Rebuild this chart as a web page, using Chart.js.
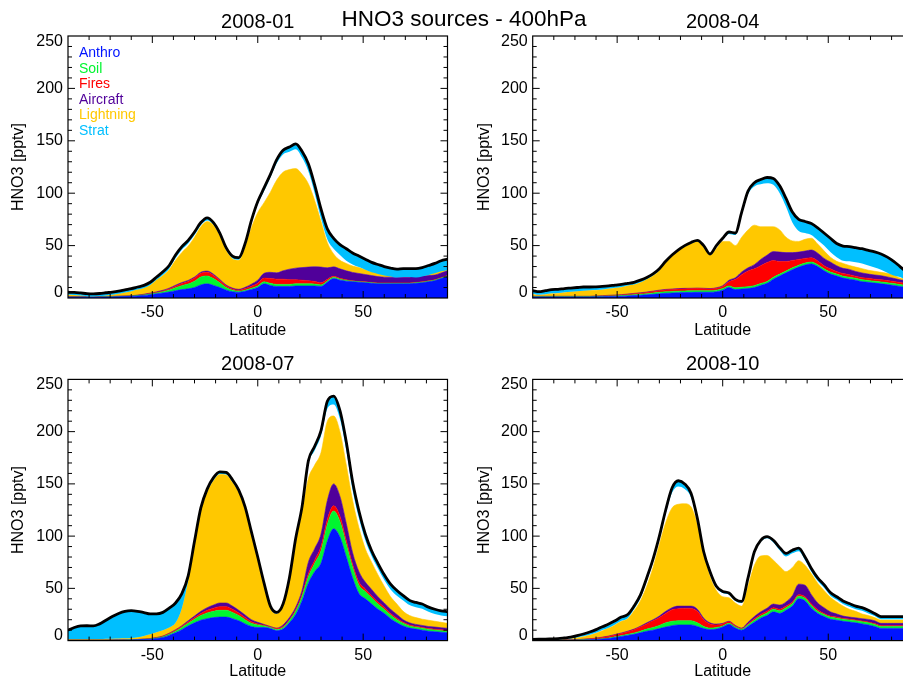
<!DOCTYPE html>
<html>
<head>
<meta charset="utf-8">
<script src="https://cdn.jsdelivr.net/npm/chart.js@4.4.0/dist/chart.umd.min.js"></script>
<style>
  html, body { margin: 0; padding: 0; background: #fff; overflow: hidden; }
  #page { position: relative; width: 903px; height: 681px; overflow: hidden;
          font-family: "Liberation Sans", Arial, sans-serif; }
  canvas { position: absolute; }
  #title { position: absolute; left: 464px; top: 7px; transform: translateX(-50%);
           font-size: 22.5px; line-height: 23px; white-space: nowrap; color: #000; z-index: 5; }
</style>
</head>
<body>
<div id="page">
  <canvas id="c1" width="451" height="340" style="left:0;top:0"></canvas>
  <canvas id="c2" width="470" height="340" style="left:451px;top:0"></canvas>
  <canvas id="c3" width="451" height="341" style="left:0;top:340px"></canvas>
  <canvas id="c4" width="470" height="341" style="left:451px;top:340px"></canvas>
  <div id="title">HNO3 sources - 400hPa</div>
</div>
<script>
// latitude grid (deg)
const lat = [-90,-87,-84,-81,-78,-75,-72,-69,-66,-63,-60,-57,-54,-51,-48,-45,-42,-39,-36,-33,-30,-27,-24,-21,-18,-15,-12,-9,-6,-3,0,3,6,9,12,15,18,21,24,27,30,33,36,39,42,45,48,51,54,57,60,63,66,69,72,75,78,81,84,87,90];
const xTicks = [-50, 0, 50];
const yTicks = [0, 50, 100, 150, 200, 250];
const sourceNames = ['Anthro', 'Soil', 'Fires', 'Aircraft', 'Lightning', 'Strat'];

// 2008-01 (pptv)
const anthroJan = [0.8,0.8,0.7,0.7,0.7,0.8,0.9,1.0,1.2,1.4, 1.6,2.0,2.5,3.2,4,4.8,5.8,7,8,8.8, 10,12.5,13.5,12,10,7.5,6,5.5,6.5,8, 10,13.5,12,11,11,11,11.5,11.5,11.5,11.5, 11,15,18.5,17,16,15.5,15,14.5,14,13.5, 13.5,13.5,13.5,13.5,13.5,14,14.5,15.5,16.5,18.5, 20.5];
const soilJan = [0.2,0.2,0.2,0.2,0.2,0.2,0.2,0.2,0.2,0.2, 0.2,0.3,0.4,0.6,0.8,1.2,1.8,2.8,3.8,4.5, 6,7.5,7.5,6.5,4.5,2.5,1.5,1,1,1.2, 1.5,2,2,2,2,2,2,2,2,1.8, 1.5,1.3,1.2,1,0.8,0.5,0.5,0.5,0.5,0.5, 0.5,0.5,0.5,0.5,0.5,0.5,0.5,0.5,0.5,0.5, 0.5];
const firesJan = [0.1,0.1,0.1,0.1,0.1,0.1,0.1,0.1,0.1,0.1, 0.1,0.2,0.3,0.4,0.5,0.7,1,1.5,2,2.5, 3,3.5,3.5,3,2.2,1.5,1.2,1,1.5,2, 2.5,3.5,4.5,5,5,4.5,4,3.5,3,2.5, 2,1.5,1,0.8,0.6,0.4,0.4,0.4,0.4,0.4, 0.4,0.4,0.4,0.4,0.4,0.4,0.4,0.4,0.4,0.4, 0.4];
const aircraftJan = [0.3,0.3,0.3,0.3,0.3,0.3,0.3,0.3,0.3,0.3, 0.3,0.3,0.4,0.5,0.6,0.7,0.8,0.9,1,1, 1,1.1,1.2,1.2,1,0.9,0.8,0.8,1.2,2, 3,4.5,6,6,8,10,11,12,13,14, 15,11,9,9,8.5,8,7.5,7,6.5,6, 5.5,5.5,5.5,5.5,5.5,5.5,5.5,5,4.5,4.5, 4.5];
const lightningJan = [1.6,1.4,1.0,0.4,0.2,0.4,1.0,1.5,2.2,3.3, 4.3,5.2,5.9,7.8,11.6,14.1,17.6,23.8,28.7,32.7, 38,43.4,47.3,46.8,41.8,33.1,28,27.7,38.3,53.8, 64.5,67.5,76.5,88.5,94,95,95,89,79.5,63.2, 43.5,24.2,12.3,8.2,7.1,6.1,5.6,4.6,3.6,3.1, 2.6,2,1.8,2,2,1.5,1.8,2,2.8,2.8, 1.8];
const stratJan = [2.5,2.5,2.5,2.5,2.5,2.5,2.5,2.5,2.5,2.5, 2.5,2.5,2.5,2.5,2.5,3,3,3,3,3, 3,2.5,2.5,2,2,2,2,2,2,2, 2.5,3,3,3.5,4,4.5,5,6,7,8, 9,10,10,10,11.5,11,10.5,10,9.5,9, 8.5,8,8,8,8,8.5,8.5,9,9.5,10, 10.5];
const totalJan = [5.5,5.3,4.8,4.2,4.0,4.3,5.0,5.6,6.5,7.8, 9,10.5,12,15,20,25,31,41,49,55, 63,72,76.5,72,62,48,40,38.5,52,74, 92,105,118,132,141,144,147,140,128,108, 85,66,57,51,47,43,40,37,34,32, 30,28.5,27.5,28,28,28,29,31,33,35.5, 37];

// 2008-04
const anthroApr = [1,1,1,1,1,1,1,1,1,1, 1.1,1.2,1.4,1.5,1.7,2,2.3,2.6,3,3.5, 4,4.5,4.8,5,5.2,5.3,5.5,5.5,5.5,6, 7.5,10,8,8.5,9,10,12,14,18,21, 24,27,29.5,31.5,32.5,30,26,23,21,19, 18,17,15.6,15,14.2,13.5,12.8,12,11,10, 9.5];
const soilApr = [0.3,0.3,0.3,0.3,0.3,0.3,0.3,0.3,0.3,0.3, 0.4,0.4,0.5,0.5,0.6,0.7,0.9,1,1.1,1.3, 1.5,1.5,1.5,1.5,1.5,1.5,1.5,1.5,1.5,1.5, 1.5,1.5,1.8,1.8,1.8,1.8,1.8,1.8,1.8,1.8, 1.8,1.8,1.8,1.8,1.8,1.8,1.8,1.8,1.8,1.8, 1.8,1.8,1.8,1.8,1.8,1.8,1.8,1.8,1.8,1.8, 1.8];
const firesApr = [0.15,0.15,0.15,0.15,0.15,0.15,0.15,0.15,0.15,0.15, 0.2,0.3,0.4,0.5,0.6,0.7,0.8,1,1.2,1.3, 1.5,1.7,1.8,2,2,2,2,1.8,1.5,1.7, 2,4,8,12,15,16,17,18,16,12, 9,7,5.5,4.5,4,3.5,3,3,2.5,2.5, 2.5,2,2,2,2,2,2,2,2,2, 2];
const aircraftApr = [0.2,0.2,0.2,0.2,0.2,0.2,0.2,0.2,0.2,0.2, 0.2,0.3,0.3,0.3,0.3,0.4,0.4,0.4,0.4,0.5, 0.5,0.5,0.5,0.5,0.5,0.5,0.5,0.5,0.5,0.6, 0.8,1.5,1.5,2.5,3,4,6,7,8.5,9, 8.5,7.5,7,7,7.5,7.5,7,6.5,5.5,5, 5,4.5,4.5,4,4,4,3.5,3,2.5,2.5, 2.5];
const lightningApr = [1.9,1.2,1.7,2.7,3,3.7,4.2,4.7,5.2,5.7, 5.6,5.6,6.2,6.8,7.1,8,8.4,9.8,12.1,14.7, 18.8,25.6,31.2,35.8,39.6,42.5,44.3,39.5,31.8,37.2, 42.2,37,30.7,33.2,36.2,37.7,31.2,27.2,23.7,21.2, 14.7,11.2,10.2,11.2,11.2,8.7,7.2,4.7,4.2,4.7, 3.7,4.2,4.1,3.7,3.5,3.2,3.4,3.2,1.7,1.7, 0.7];
const stratApr = [3,3,3.5,3.5,3.5,3.5,3.5,3.5,3.5,3, 3,3,2.5,2.5,2.5,2,2,2,1.5,1.5, 1.5,1,1,1,1,1,1,1,1,1, 1.5,2,2,2.5,3,3.5,4.5,5.5,6,7, 8,10,11,11,11,12,12,13,13,14, 14,14,14,14.5,15,15,15,13.5,10,8, 7];
const totalApr = [7,6,7,8,8.3,9,9.5,10,10.5,10.5, 10.7,11,11.5,12.3,13,14,15,17,19.5,23, 28,35,41,46,50,53,55,50,42,50, 57,63,62,82,102,110,113,115,114,107, 95,82,75,73,71,67,62,57,52,49.6, 49,48,47,45.5,44,42,39,35,30,25, 21];

// 2008-07
const anthroJul = [0.3,0.3,0.3,0.3,0.3,0.3,0.3,0.4,0.4,0.5, 0.6,0.8,1,1.3,2,3,5,7.5,10.5,14, 17,19.5,21,22,22.5,22.5,21,19,16,13.5, 12.5,12.5,11.5,9.5,11,17,25,38,55,66, 74,95,107,99,80,60,45,40,35,30, 26,21,17,14,12,11,10,9,8.5,8, 7.5];
const soilJul = [0.1,0.1,0.1,0.1,0.1,0.1,0.1,0.1,0.1,0.1, 0.1,0.1,0.2,0.3,0.4,0.6,1,1.5,2,2.5, 3.5,4.5,5.5,6,6.5,6.5,6,5,4,3, 2.5,1.5,1,1,1.5,2,3,4,6,8, 12,16,17,15,12,10,8,7,6,5, 4,3.5,3,2.5,2,1.8,1.8,1.7,1.6,1.5, 1.5];
const firesJul = [0.05,0.05,0.05,0.05,0.05,0.05,0.05,0.05,0.1,0.1, 0.1,0.1,0.2,0.3,0.4,0.5,0.7,0.8,1,1.3, 1.5,2,2.5,3,3.5,3.5,3,2.5,2,1.5, 1,0.8,0.5,1,1,1,1.5,2,3,3, 4,5,5,5,4,3,3,2.5,2,2, 2,1.5,1.5,1,1,0.9,0.8,0.8,0.8,0.8, 0.8];
const aircraftJul = [0.05,0.05,0.05,0.05,0.05,0.05,0.05,0.05,0.1,0.1, 0.1,0.1,0.1,0.1,0.2,0.3,0.4,0.6,0.8,1.2, 1.5,2,2.5,3,3.5,3.5,3,2.5,2.5,2, 1.5,0.7,0.5,0.5,1.5,2,2.5,4,11,11, 12,18,21,19,16,11,10,6.5,6,5, 4,4,3.5,2.5,2,1.8,1.9,2,2.1,2, 2];
const lightningJul = [1,1,1,1,1,1,1.2,1.2,1.3,1.4, 1.6,2.2,3,4,5,5.6,5.4,6.6,16.7,38, 68.5,96,110.5,119,123,122.5,118.5,112.5,101,81.5, 60,37,17.5,13.5,18,35,61,75,80,80, 78,76,65,62,56,50,42,32,26,21, 16,12,10,8,7,6.5,6,6,5.5,5.2, 4.7];
const stratJul = [8.5,11,12.5,12.7,12.5,14.5,17.8,21.2,24,25.8, 26.1,24.7,22.3,19.5,17.5,17,18.5,19,14,4.5, 3,3,2.5,2.5,2,2,2,2,2,2, 2,2,1.5,1,1,1.5,2,2.5,3,4, 5,7,8,8,8,8,7,6,5,5, 5,5,5,4.5,4.5,4.5,4.5,4.5,4.5,4.5, 4.5];
const totalJul = [10,12.5,14,14.2,14,16,19.5,23,26,28, 28.6,28,26.8,25.5,25.5,27,31,36,45,62, 95,127,145,156,161.5,161,154,144,128,104, 80,55,33,27,35,60,98,128,172,186, 201,229,234,220,190,152,124,102,86,74, 63,54,48,43,38.5,36.5,35,32,30,28.5, 27.7];

// 2008-10
const anthroOct = [0.2,0.2,0.2,0.2,0.25,0.3,0.4,0.5,0.6,0.8, 1,1.5,2,3,4,5,6,7.5,9,10, 11.5,13,14.3,15,15,15,13.5,11.5,10.5,11, 13,15.5,12,10,13.5,17.5,21.5,24,27.5,26, 29,33,40,38,31,26,23,20.5,19.5,18.5, 17.8,17,16,15,13.5,11.7,11.7,11.7,11.7,11.7, 11.7];
const soilOct = [0.05,0.05,0.05,0.05,0.05,0.05,0.1,0.1,0.2,0.2, 0.3,0.3,0.5,0.6,0.8,1,1.3,1.5,2,2.5, 3,4,4.2,4,4,4,3.5,2,1.5,1.5, 1,1,1,1,1.5,2,2,2.5,2.5,2.5, 2.5,2.5,2.5,2.5,2.5,2,2,2,2,2, 2,2,2,2,2,1.8,1.8,1.8,1.8,1.8, 1.8];
const firesOct = [0.05,0.05,0.05,0.1,0.1,0.15,0.2,0.3,0.4,0.6, 0.9,1.2,1.5,1.7,2,2.5,3.2,4,5,6.5, 7.5,9,11,11.5,11.8,11.8,11,6.5,4,2.5, 2,1.5,1,0.5,1,1.5,1.5,1.5,1.5,1.5, 1.5,1.5,1.5,1.5,1.5,1.5,1,1,1,0.8, 0.8,0.8,0.8,0.8,0.8,0.8,0.8,0.8,0.8,0.8, 0.8];
const aircraftOct = [0.05,0.05,0.05,0.05,0.05,0.05,0.1,0.1,0.1,0.2, 0.2,0.3,0.4,0.5,0.5,0.5,0.5,0.8,1,1, 1.5,2,2,2.5,2.2,2.2,2,1.5,1,0.8, 0.5,0.5,0.5,0.5,1.5,2,2.5,3,3.5,4, 4,6,10,11,9,6.5,5.5,4,3,2.2, 1.9,2,2.2,2.5,2.7,2.2,2.2,2.2,2.2,2.2, 2.2];
const lightningOct = [0.15,0.25,0.25,0.3,0.35,0.65,1,1.8,2.5,3.4, 4.6,6.2,7.6,9.2,11.2,12,17.5,24.2,35,50, 68.5,85,95.5,97.5,98,95,81,62.5,44,32.2, 25.5,22.5,21.5,21,34.5,49,53.5,50.5,42,37, 29,27,22.5,19,20,19,16.5,14,11.5,9.5, 7.5,6.2,4.5,3.7,3,3.2,3.2,3.2,3.2,3.2, 3.2];
const stratOct = [0.5,0.5,0.6,0.7,0.8,1,1.3,1.7,2.2,2.6, 3,3.2,3.4,3.5,3.5,3.5,3,3,3,3, 3,3.5,4.5,5.5,5,4,2.5,2,2,1.5, 1.5,1.5,1.5,1.5,1.5,1.5,1.5,1.5,2,2.5, 3,3,3,3,3,3,3,3,3,3, 3,3,3,3,2.5,2.5,2.5,2.5,2.5,2.5, 2.5];
const totalOct = [1.2,1.3,1.4,1.6,1.8,2.5,3.3,4.7,6.3,8.2, 10.5,13.3,15.8,19,22.5,25,33,43.5,60,78, 100,125,146,153,150,141,117,85,66,52, 47,45.5,39.5,37.5,60,85,96,99.5,96,89, 83.5,86.5,88.5,80,69,60,53.5,46,42,38, 35.5,33,31.5,29,26,22.9,22.9,22.9,22.9,22.9, 22.9];

const colors = ['#0014ff', '#00f530', '#ff0000', '#50009a', '#ffc800', '#00bfff'];
const FONT = '"Liberation Sans", Arial, sans-serif';
Chart.defaults.font.family = FONT;
Chart.defaults.color = '#000';

const panels = [
  { id: 'c1', title: '2008-01', legend: true,
    src: [anthroJan, soilJan, firesJan, aircraftJan, lightningJan], strat: stratJan, total: totalJan,
    yW: 68, padTop: 36, padRight: 3.5, xH: 42, yTitlePad: 8.7, titleY: 22.2 },
  { id: 'c2', title: '2008-04',
    src: [anthroApr, soilApr, firesApr, aircraftApr, lightningApr], strat: stratApr, total: totalApr,
    yW: 81.7, padTop: 36, padRight: 8.3, xH: 42, yTitlePad: 23.9, titleY: 22.2 },
  { id: 'c3', title: '2008-07',
    src: [anthroJul, soilJul, firesJul, aircraftJul, lightningJul], strat: stratJul, total: totalJul,
    yW: 68, padTop: 39.4, padRight: 3.5, xH: 40.4, yTitlePad: 8.7, titleY: 24 },
  { id: 'c4', title: '2008-10',
    src: [anthroOct, soilOct, firesOct, aircraftOct, lightningOct], strat: stratOct, total: totalOct,
    yW: 81.7, padTop: 39.4, padRight: 8.3, xH: 40.4, yTitlePad: 23.9, titleY: 24 }
];

const pts = vals => vals.map((v, i) => ({ x: lat[i], y: v }));

// IDL-like frame: box, inward ticks, y labels, panel title, legend
const frame = {
  id: 'frame',
  afterDraw(chart, args, opts) {
    const { ctx, chartArea: a, scales: { x, y } } = chart;
    ctx.save();
    ctx.strokeStyle = '#000';
    ctx.lineWidth = 1.2;
    ctx.strokeRect(a.left, a.top, a.right - a.left, a.bottom - a.top);
    ctx.lineWidth = 1;
    ctx.beginPath();
    for (let v = -80; v <= 80; v += 10) {
      const px = x.getPixelForValue(v);
      const len = v % 50 === 0 ? 7 : 4;
      ctx.moveTo(px, a.bottom); ctx.lineTo(px, a.bottom - len);
      ctx.moveTo(px, a.top); ctx.lineTo(px, a.top + len);
    }
    for (let v = 10; v < 250; v += 10) {
      const py = y.getPixelForValue(v);
      const len = v % 50 === 0 ? 7 : 4;
      ctx.moveTo(a.left, py); ctx.lineTo(a.left + len, py);
      ctx.moveTo(a.right, py); ctx.lineTo(a.right - len, py);
    }
    ctx.stroke();

    ctx.fillStyle = '#000';
    ctx.font = '16px ' + FONT;
    ctx.textAlign = 'right';
    ctx.textBaseline = 'middle';
    y.ticks.forEach(t => {
      let py = y.getPixelForValue(t.value);
      py = Math.min(Math.max(py, a.top + 5.5), a.bottom - 5.5);
      ctx.fillText(t.label != null ? t.label : String(t.value), a.left - 5, py);
    });

    ctx.font = '20px ' + FONT;
    ctx.textAlign = 'center';
    ctx.fillText(opts.title, (a.left + a.right) / 2, opts.titleY);

    if (opts.legend) {
      ctx.font = '14px ' + FONT;
      ctx.textAlign = 'left';
      sourceNames.forEach((name, i) => {
        ctx.fillStyle = colors[i];
        ctx.fillText(name, a.left + 11, a.top + 17.3 + i * 15.5);
      });
    }
    ctx.restore();
  }
};

panels.forEach(p => {
  const datasets = p.src.map((vals, i) => ({
    label: sourceNames[i],
    data: pts(vals),
    stack: 'src',
    order: 2,
    backgroundColor: colors[i],
    borderColor: colors[i],
    borderWidth: 0.6,
    fill: i === 0 ? 'origin' : '-1',
    pointRadius: 0,
    cubicInterpolationMode: 'monotone'
  }));
  // strat band sits just under the total curve
  datasets.push({
    label: 'stratBase',
    data: pts(p.total.map((t, i) => t - p.strat[i])),
    stack: 'base', order: 1,
    borderColor: 'rgba(0,0,0,0)', borderWidth: 0, fill: false,
    pointRadius: 0, cubicInterpolationMode: 'monotone'
  });
  datasets.push({
    label: 'Strat',
    data: pts(p.total),
    stack: 'top', order: 1,
    backgroundColor: colors[5], borderColor: 'rgba(0,0,0,0)', borderWidth: 0,
    fill: '-1', pointRadius: 0, cubicInterpolationMode: 'monotone'
  });
  datasets.push({
    label: 'Total',
    data: pts(p.total),
    stack: 'line', order: 0,
    borderColor: '#000', borderWidth: 2.8, fill: false,
    pointRadius: 0, cubicInterpolationMode: 'monotone'
  });

  new Chart(document.getElementById(p.id), {
    type: 'line',
    data: { datasets },
    options: {
      responsive: false,
      animation: false,
      events: [],
      layout: { padding: { left: 0, top: p.padTop, right: p.padRight, bottom: 0 } },
      scales: {
        x: {
          type: 'linear', min: -90, max: 90,
          afterBuildTicks: s => { s.ticks = xTicks.map(v => ({ value: v })); },
          afterFit: s => { s.height = p.xH; },
          grid: { display: false, drawTicks: false },
          border: { display: false },
          ticks: { font: { size: 16 }, color: '#000', padding: 5, maxRotation: 0, autoSkip: false },
          title: { display: true, text: 'Latitude', font: { size: 16 }, color: '#000', padding: 0 }
        },
        y: {
          min: 0, max: 250, stacked: true,
          afterBuildTicks: s => { s.ticks = yTicks.map(v => ({ value: v })); },
          afterFit: s => { s.width = p.yW; },
          grid: { display: false, drawTicks: false },
          border: { display: false },
          ticks: { display: false },
          title: { display: true, text: 'HNO3 [pptv]', font: { size: 16 }, color: '#000',
                   padding: { top: p.yTitlePad, bottom: 0 } }
        }
      },
      plugins: {
        legend: { display: false },
        tooltip: { enabled: false },
        frame: { title: p.title, titleY: p.titleY, legend: !!p.legend }
      }
    },
    plugins: [frame]
  });
});
</script>
</body>
</html>
